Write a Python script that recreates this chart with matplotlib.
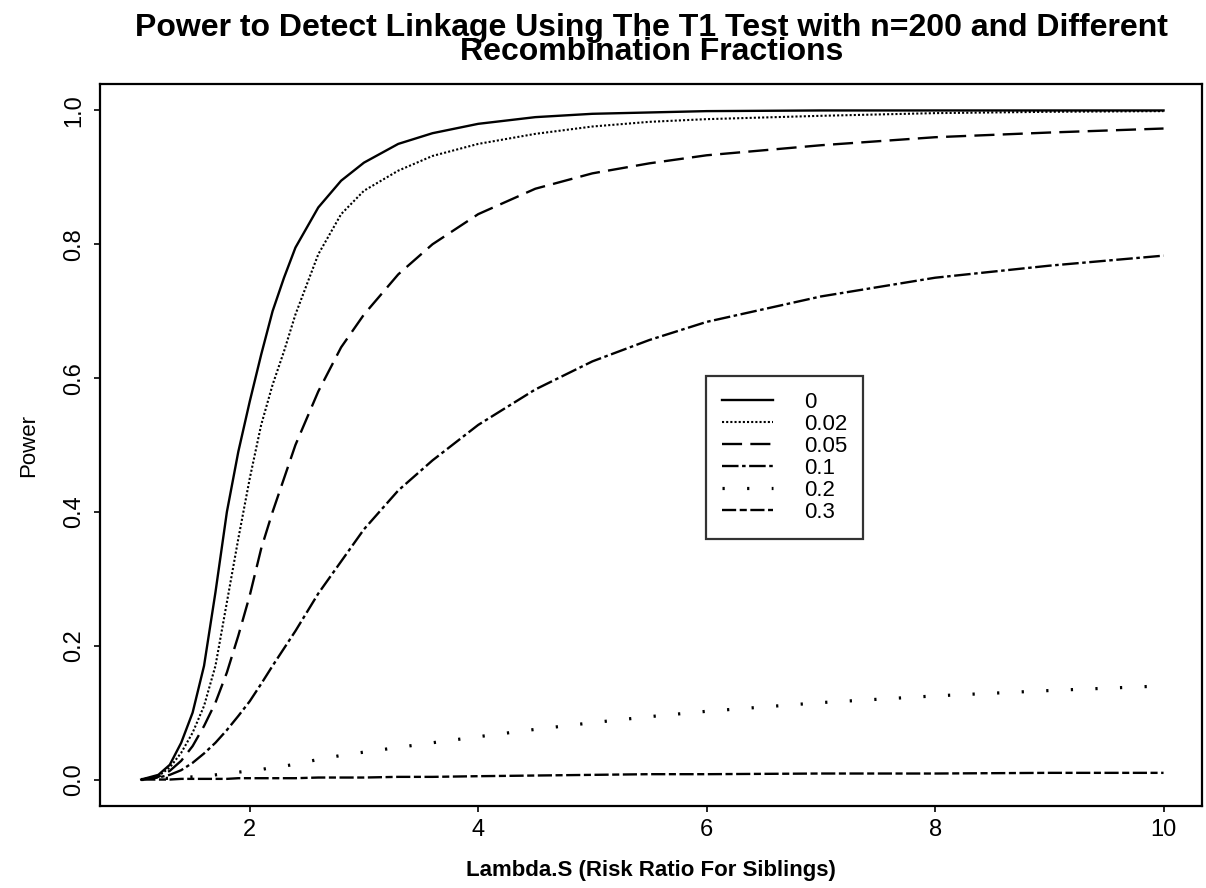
import matplotlib
matplotlib.use("Agg")
import matplotlib.pyplot as plt

# === DONNEES ===
lam = [1.05, 1.2, 1.3, 1.4, 1.5, 1.6, 1.7, 1.8, 1.9, 2.0, 2.1, 2.2, 2.3, 2.4,
       2.6, 2.8, 3.0, 3.3, 3.6, 4.0, 4.5, 5.0, 5.5, 6.0, 7.0, 8.0, 9.0, 10.0]

p_00 = [0, 0.007, 0.022, 0.055, 0.10, 0.17, 0.28, 0.40, 0.49, 0.565, 0.635, 0.70, 0.75, 0.795,
        0.855, 0.895, 0.922, 0.95, 0.966, 0.98, 0.99, 0.995, 0.997, 0.999, 1.0, 1.0, 1.0, 1.0]
p_002 = [0, 0.005, 0.018, 0.04, 0.07, 0.11, 0.17, 0.265, 0.36, 0.45, 0.53, 0.59, 0.64, 0.695,
         0.785, 0.845, 0.88, 0.91, 0.932, 0.95, 0.965, 0.976, 0.983, 0.987, 0.992, 0.996, 0.998, 0.999]
p_005 = [0, 0.004, 0.013, 0.028, 0.05, 0.08, 0.115, 0.16, 0.215, 0.275, 0.345, 0.40, 0.45, 0.50,
         0.58, 0.646, 0.695, 0.755, 0.80, 0.845, 0.883, 0.906, 0.921, 0.933, 0.948, 0.96, 0.967, 0.973]
p_01 = [0, 0.003, 0.007, 0.014, 0.025, 0.039, 0.055, 0.074, 0.095, 0.117, 0.143, 0.17, 0.196, 0.222,
        0.278, 0.326, 0.374, 0.432, 0.477, 0.53, 0.583, 0.625, 0.657, 0.684, 0.722, 0.75, 0.768, 0.783]
p_02 = [0, 0.001, 0.002, 0.003, 0.004, 0.005, 0.007, 0.009, 0.011, 0.013, 0.015, 0.018, 0.02, 0.023,
        0.03, 0.036, 0.041, 0.048, 0.055, 0.064, 0.075, 0.085, 0.094, 0.102, 0.115, 0.125, 0.133, 0.14]
p_03 = [0, 0, 0, 0.001, 0.001, 0.001, 0.001, 0.001, 0.002, 0.002, 0.002, 0.002, 0.002, 0.002,
        0.003, 0.003, 0.003, 0.004, 0.004, 0.005, 0.006, 0.007, 0.008, 0.008, 0.009, 0.009, 0.01, 0.01]

labels = ["0", "0.02", "0.05", "0.1", "0.2", "0.3"]
series = [p_00, p_002, p_005, p_01, p_02, p_03]

# styles de trait (facon S-Plus)
styles = [
    dict(lw=1.7, ls="-"),
    dict(lw=1.5, ls=(0, (1.0, 1.0))),
    dict(lw=1.7, ls=(0, (8.5, 3.5))),
    dict(lw=1.7, ls=(0, (7.0, 1.5, 1.5, 1.5))),
    dict(lw=2.3, ls=(0, (0.7, 7.0))),
    dict(lw=1.7, ls=(0, (6.0, 1.5, 3.0, 1.5))),
]

plt.rcParams["font.family"] = ["Liberation Sans", "DejaVu Sans"]

fig = plt.figure(figsize=(12.06, 8.88), dpi=100)
ax = fig.add_axes([0.083, 0.092, 0.914, 0.813])

for y, lab, st in zip(series, labels, styles):
    ax.plot(lam, y, color="black", linewidth=st["lw"], linestyle=st["ls"], label=lab)

ax.set_xlim(0.69, 10.34)
ax.set_ylim(-0.04, 1.039)
ax.set_xticks([2, 4, 6, 8, 10])
ax.set_yticks([0.0, 0.2, 0.4, 0.6, 0.8, 1.0])
ax.set_yticklabels(["0.0", "0.2", "0.4", "0.6", "0.8", "1.0"], rotation=90, va="center")
ax.tick_params(direction="out", length=4, width=1.2, labelsize=17)
ax.tick_params(axis="x", pad=5)
ax.tick_params(axis="y", pad=7)
for s in ax.spines.values():
    s.set_linewidth(1.6)

ax.set_xlabel("Lambda.S (Risk Ratio For Siblings)", fontsize=16, fontweight="bold", labelpad=14)
ax.set_ylabel("Power", fontsize=16, labelpad=17)

fig.text(0.54, 0.955, "Power to Detect Linkage Using The T1 Test with n=200 and Different\n"
         "Recombination Fractions", ha="center", va="center", fontsize=23,
         fontweight="bold", linespacing=0.72)

leg = ax.legend(loc="upper left", bbox_to_anchor=(0.550, 0.596), fontsize=16,
                frameon=True, fancybox=False, edgecolor="black", handlelength=2.3,
                labelspacing=0.05, borderpad=0.7, handletextpad=1.4, borderaxespad=0)
leg.get_frame().set_linewidth(1.6)

fig.savefig("out.png", dpi=100, facecolor="white")
